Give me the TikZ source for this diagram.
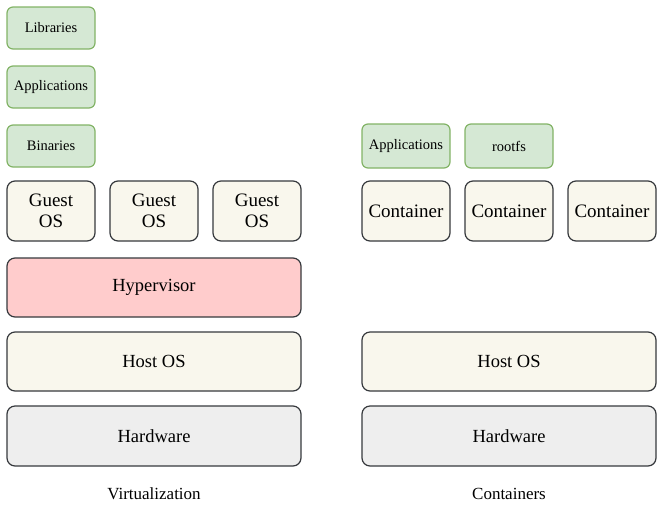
\documentclass[tikz,border=0pt]{standalone}
\usepackage{fontspec}
\setmainfont{LiberationSerif}[Extension=.ttf, UprightFont=*-Regular, BoldFont=*-Bold]
\usetikzlibrary{positioning}

\definecolor{greenfill}{HTML}{D5E8D4}
\definecolor{greenline}{HTML}{82B366}
\definecolor{osfill}{HTML}{F9F7ED}
\definecolor{hypfill}{HTML}{FFCCCC}
\definecolor{hwfill}{HTML}{EEEEEE}
\definecolor{darkline}{HTML}{36393D}

\begin{document}
\begin{tikzpicture}[
    x=1pt, y=-1pt,
    node distance=15pt and 15pt,
    layer/.style={rectangle, draw=darkline, line width=1.2pt, rounded corners=8pt, inner sep=0pt, outer sep=0pt, align=center},
    small/.style={layer, draw=greenline, fill=greenfill, rounded corners=6pt, minimum width=88pt, minimum height=42pt, font=\fontsize{14.5}{16}\selectfont},
    osbox/.style={layer, fill=osfill, minimum width=88pt, minimum height=60pt, font=\fontsize{19}{21}\selectfont},
    wide/.style={layer, minimum width=294pt, minimum height=59pt, font=\fontsize{18.5}{21}\selectfont},
    caption/.style={font=\fontsize{17}{20}\selectfont, inner sep=0pt}
]
\useasboundingbox (0,0) rectangle (658,504);
% virtualization stack
\node[wide, fill=hwfill, anchor=north west, minimum height=60pt] (hw1) at (7,406) {Hardware};
\node[wide, fill=osfill, above=of hw1] (host1) {Host OS};
\node[wide, fill=hypfill, above=of host1] (hyp) {Hypervisor};
\node[osbox, above right=17pt and 0pt of hyp.north west] (g1) {Guest\\OS};
\node[osbox, right=of g1] (g2) {Guest\\OS};
\node[osbox, right=of g2] (g3) {Guest\\OS};
\node[small, above=14pt of g1] (bin) {Binaries};
\node[small, above=17pt of bin] (app1) {Applications};
\node[small, above=17pt of app1] (lib) {Libraries};
\node[caption] (virt) at ([yshift=-28pt]hw1.south) {Virtualization};
% container stack
\node[wide, fill=hwfill, anchor=north west, minimum height=60pt] (hw2) at (362,406) {Hardware};
\node[wide, fill=osfill, above=of hw2] (host2) {Host OS};
\node[osbox, anchor=west] (c1) at (hw2.west |- g1.west) {Container};
\node[osbox, right=of c1] (c2) {Container};
\node[osbox, right=of c2] (c3) {Container};
\node[small, above=13pt of c1, minimum height=44pt] (app2) {Applications};
\node[small, above=13pt of c2, minimum height=44pt] (rootfs) {rootfs};
\node[caption] (cont) at ([yshift=-28pt]hw2.south) {Containers};
\end{tikzpicture}
\end{document}
